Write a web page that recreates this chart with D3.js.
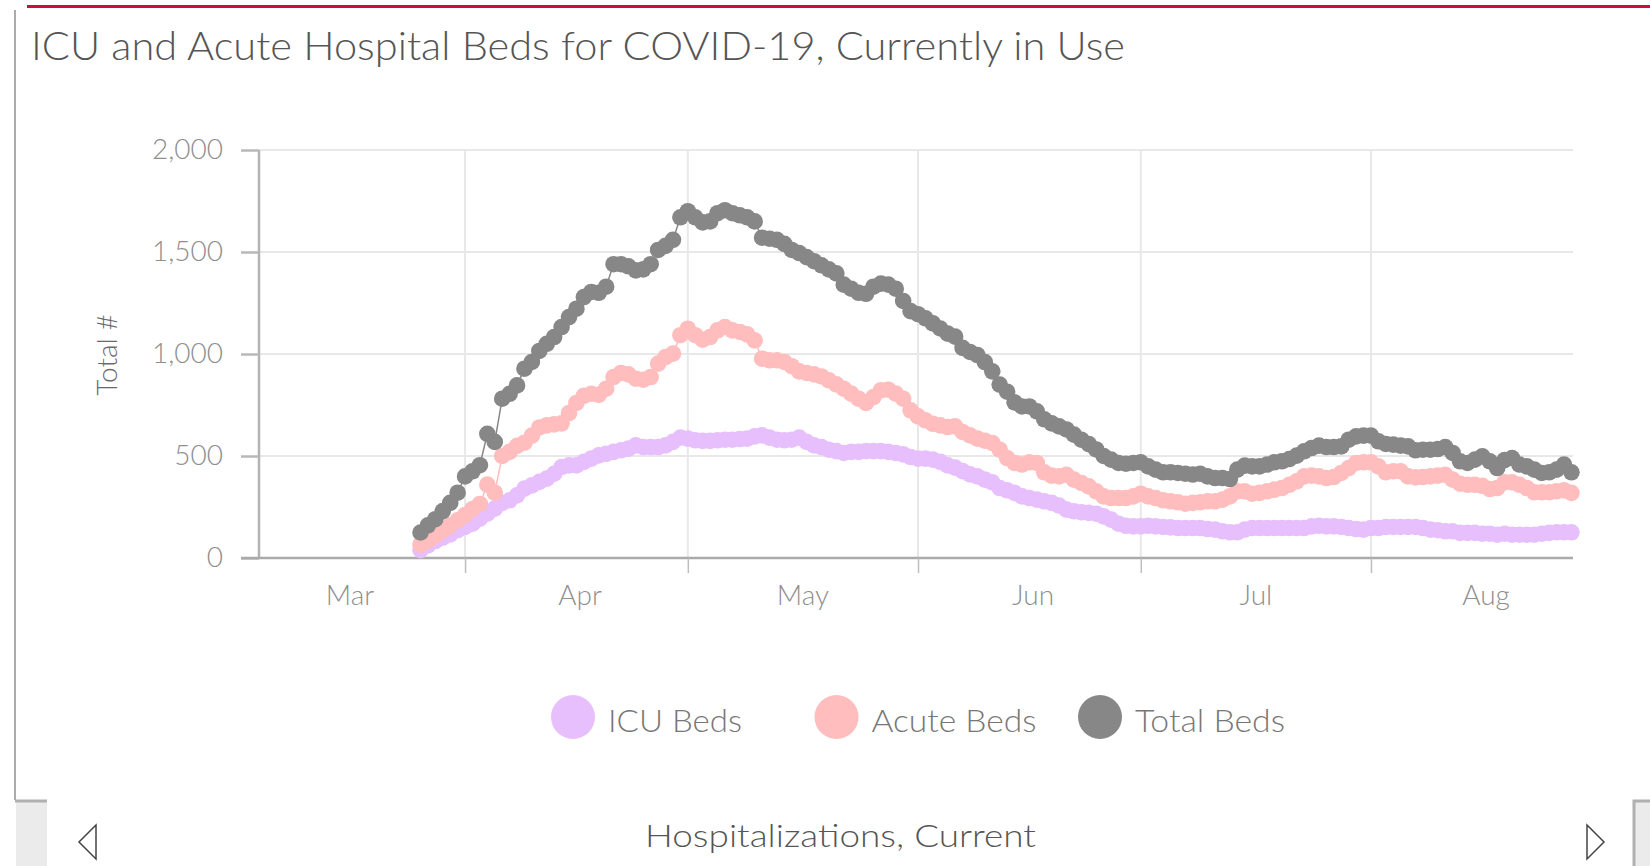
<!DOCTYPE html>
<html><head><meta charset="utf-8">
<script src="https://cdn.jsdelivr.net/npm/d3@7"></script>
<style>html,body{margin:0;padding:0;background:#fff;overflow:hidden}</style>
</head><body>
<svg id="c" width="1650" height="866"></svg>
<script>
// ---- data (daily, starting 2020-03-26) ----
const startDate = [2020, 2, 26];
const seriesNames = ["ICU Beds", "Acute Beds", "Total Beds"];
const icuBeds = [38, 62, 83, 100, 116, 136,
  152, 168, 193, 217, 242, 270, 283, 307, 340, 356, 373, 389, 413, 446, 454, 454, 471, 487, 503, 511, 520, 528, 536, 552, 544, 544, 544, 552, 569, 590,
  585, 577, 574, 574, 577, 580, 580, 583, 585, 596, 601, 590, 580, 577, 580, 590, 569, 552, 544, 531, 524, 515, 520, 520, 524, 524, 524, 520, 515, 508, 495,
  487, 487, 482, 471, 454, 443, 426, 410, 400, 384, 371, 343, 332, 319, 302, 294, 286, 278, 270, 257, 237, 229, 224, 221, 217, 204, 188, 168, 158, 155,
  155, 158, 155, 152, 150, 147, 147, 147, 147, 142, 139, 131, 126, 126, 139, 147, 147, 147, 147, 147, 147, 147, 147, 155, 158, 155, 155, 152, 147, 142, 139,
  147, 147, 152, 152, 152, 152, 152, 147, 139, 136, 131, 131, 123, 123, 123, 119, 119, 114, 119, 114, 114, 114, 114, 119, 123, 126, 126, 126];
const acuteBeds = [65, 85, 110, 135, 160, 185,
  210, 240, 265, 360, 320, 500, 520, 550, 565, 600, 640, 650, 655, 660, 710, 760, 795, 805, 800, 830, 887, 907, 900, 879, 874, 887, 953, 985, 1002, 1092,
  1124, 1092, 1070, 1083, 1116, 1132, 1116, 1108, 1096, 1067, 977, 969, 969, 961, 940, 915, 907, 900, 890, 871, 851, 830, 806, 781, 760, 789, 822, 825, 806, 781, 724,
  694, 675, 658, 650, 642, 645, 618, 601, 585, 575, 564, 531, 490, 466, 458, 469, 466, 420, 404, 400, 408, 384, 368, 351, 327, 302, 294, 294, 294, 302,
  315, 302, 294, 283, 278, 273, 266, 270, 273, 278, 278, 286, 302, 327, 327, 315, 319, 327, 335, 343, 359, 376, 400, 404, 400, 392, 397, 417, 441, 466, 469,
  469, 449, 420, 425, 425, 400, 395, 397, 400, 404, 408, 384, 364, 359, 359, 354, 338, 343, 371, 371, 359, 343, 322, 322, 322, 327, 332, 319];
const totalBeds = [125, 160, 190, 230, 270, 320,
  400, 425, 455, 609, 569, 781, 805, 846, 928, 961, 1015, 1050, 1083, 1132, 1181, 1222, 1279, 1304, 1300, 1330, 1440, 1440, 1430, 1410, 1415, 1440, 1510, 1530, 1560, 1670,
  1700, 1670, 1645, 1650, 1690, 1705, 1690, 1680, 1670, 1650, 1570, 1565, 1560, 1540, 1510, 1495, 1475, 1455, 1435, 1415, 1395, 1340, 1320, 1300, 1295, 1330, 1345, 1340, 1320, 1260, 1210,
  1195, 1175, 1150, 1125, 1100, 1085, 1030, 1010, 995, 960, 915, 850, 815, 763, 743, 743, 719, 680, 660, 645, 630, 605, 580, 558, 532, 500, 482, 466, 462, 466,
  469, 449, 433, 420, 420, 417, 413, 409, 413, 400, 392, 392, 387, 433, 453, 449, 449, 458, 469, 474, 485, 502, 523, 539, 551, 544, 544, 547, 580, 596, 600,
  600, 572, 559, 556, 551, 547, 528, 531, 531, 534, 544, 515, 474, 466, 482, 498, 474, 441, 480, 490, 458, 449, 433, 417, 420, 433, 458, 420];
const yTicks = [0, 500, 1000, 1500, 2000];
const monthLabels = ["Mar", "Apr", "May", "Jun", "Jul", "Aug"];
const colors = ["#e6bffc", "#ffbdbd", "#878787"];
const titleText = "ICU and Acute Hospital Beds for COVID-19, Currently in Use";
const yTitle = "Total #";
const footerText = "Hospitalizations, Current";

// ---- setup ----
const svg = d3.select("#c");
const FONT = "Lato, 'Open Sans', sans-serif";
const day0 = new Date(Date.UTC(...startDate));
const dates = icuBeds.map((_, i) => d3.utcDay.offset(day0, i));
const series = [icuBeds, acuteBeds, totalBeds];

const x = d3.scaleUtc()
  .domain([new Date(Date.UTC(2020, 2, 4, 6)), new Date(Date.UTC(2020, 7, 28, 5))])
  .range([259, 1573]);
const y = d3.scaleLinear().domain([0, 2000]).range([558, 150]);

function fit(sel, w) {
  const n = sel.node();
  const cur = n.getComputedTextLength();
  if (Math.abs(cur - w) > 1) sel.attr("textLength", w).attr("lengthAdjust", "spacingAndGlyphs");
}

// frame
svg.append("line").attr("x1", 27).attr("x2", 1650).attr("y1", 6.5).attr("y2", 6.5)
  .attr("stroke", "#c8103a").attr("stroke-width", 3);
svg.append("line").attr("x1", 15).attr("x2", 15).attr("y1", 10).attr("y2", 800)
  .attr("stroke", "#ababab").attr("stroke-width", 2);

// title
const t = svg.append("text").attr("x", 31).attr("y", 60).attr("font-family", FONT)
  .attr("font-size", 39).attr("font-weight", 300).attr("fill", "#555").text(titleText);
fit(t, 1094);

// grid
const monthStarts = d3.utcMonth.range(new Date(Date.UTC(2020, 3, 1)), new Date(Date.UTC(2020, 8, 1)));
const grid = svg.append("g");
grid.selectAll("line.h").data(yTicks.filter(d => d > 0)).join("line")
  .attr("x1", 259).attr("x2", 1573).attr("y1", d => y(d)).attr("y2", d => y(d))
  .attr("stroke", "#e8e8e8").attr("stroke-width", 2);
grid.selectAll("line.v").data(monthStarts).join("line")
  .attr("x1", d => x(d)).attr("x2", d => x(d)).attr("y1", 150).attr("y2", 558)
  .attr("stroke", "#e8e8e8").attr("stroke-width", 2);

// y axis
const ya = svg.append("g").attr("transform", "translate(259,0)")
  .call(d3.axisLeft(y).tickValues(yTicks).tickSize(18).tickPadding(18).tickFormat(d3.format(",")));
ya.select(".domain").attr("stroke", "#b3b3b3").attr("stroke-width", 2.5).attr("d", "M0,150V558");
ya.selectAll(".tick line").attr("stroke", "#b8b8b8").attr("stroke-width", 2.5);
ya.selectAll(".tick text").attr("font-family", FONT).attr("font-size", 28).attr("font-weight", 300).attr("fill", "#8f8f8f");

// x axis
const xa = svg.append("g").attr("transform", "translate(0,558)")
  .call(d3.axisBottom(x).tickValues(monthStarts).tickSize(15).tickFormat(""));
xa.select(".domain").attr("stroke", "#aaaaaa").attr("stroke-width", 2.5).attr("d", "M241,0H1573");
xa.selectAll(".tick line").attr("stroke", "#bdbdbd").attr("stroke-width", 1.5);
const labelDates = monthLabels.map((m, i) => d3.utcHour.offset(new Date(Date.UTC(2020, 2 + i, 1)), 15.5 * 24));
svg.append("g").selectAll("text").data(labelDates).join("text")
  .attr("x", d => x(d)).attr("y", 605).attr("text-anchor", "middle")
  .attr("font-family", FONT).attr("font-size", 28).attr("font-weight", 300).attr("fill", "#8f8f8f")
  .text((d, i) => monthLabels[i]);

// y title
svg.append("text").attr("transform", "translate(117,355) rotate(-90)").attr("text-anchor", "middle")
  .attr("font-family", FONT).attr("font-size", 28).attr("font-weight", 300).attr("fill", "#6a6a6a").text(yTitle);

// series
const line = d3.line().x((d, i) => x(dates[i])).y(d => y(d));
series.forEach((s, k) => {
  const g = svg.append("g");
  g.append("path").attr("d", line(s)).attr("fill", "none").attr("stroke", colors[k]).attr("stroke-width", 1.5);
  g.selectAll("circle").data(s).join("circle")
    .attr("cx", (d, i) => x(dates[i])).attr("cy", d => y(d)).attr("r", 8.3)
    .attr("fill", colors[k]);
});

// legend
const legX = [573, 836.5, 1100];
const legW = [134, 165, 150];
seriesNames.forEach((n, k) => {
  svg.append("circle").attr("cx", legX[k]).attr("cy", 717).attr("r", 22).attr("fill", colors[k]);
  const lt = svg.append("text").attr("x", legX[k] + 35).attr("y", 732).attr("font-family", FONT)
    .attr("font-size", 32).attr("font-weight", 300).attr("fill", "#777").text(n);
  fit(lt, legW[k]);
});

// footer
svg.append("rect").attr("x", 16).attr("y", 800).attr("width", 31).attr("height", 66).attr("fill", "#ebebeb");
svg.append("line").attr("x1", 15).attr("x2", 47).attr("y1", 801).attr("y2", 801).attr("stroke", "#b0b0b0").attr("stroke-width", 3);
svg.append("rect").attr("x", 1634).attr("y", 800).attr("width", 16).attr("height", 66).attr("fill", "#ebebeb");
svg.append("path").attr("d", "M1634,866V801H1650").attr("fill", "none").attr("stroke", "#b0b0b0").attr("stroke-width", 3);
svg.append("path").attr("d", "M96,825L79,842L96,859Z").attr("fill", "none").attr("stroke", "#444").attr("stroke-width", 1.5);
svg.append("path").attr("d", "M1587,825L1604,842L1587,859Z").attr("fill", "none").attr("stroke", "#444").attr("stroke-width", 1.5);
const ft = svg.append("text").attr("x", 645).attr("y", 847).attr("font-family", FONT)
  .attr("font-size", 32).attr("font-weight", 300).attr("fill", "#555").text(footerText);
fit(ft, 391);
</script>
</body></html>
